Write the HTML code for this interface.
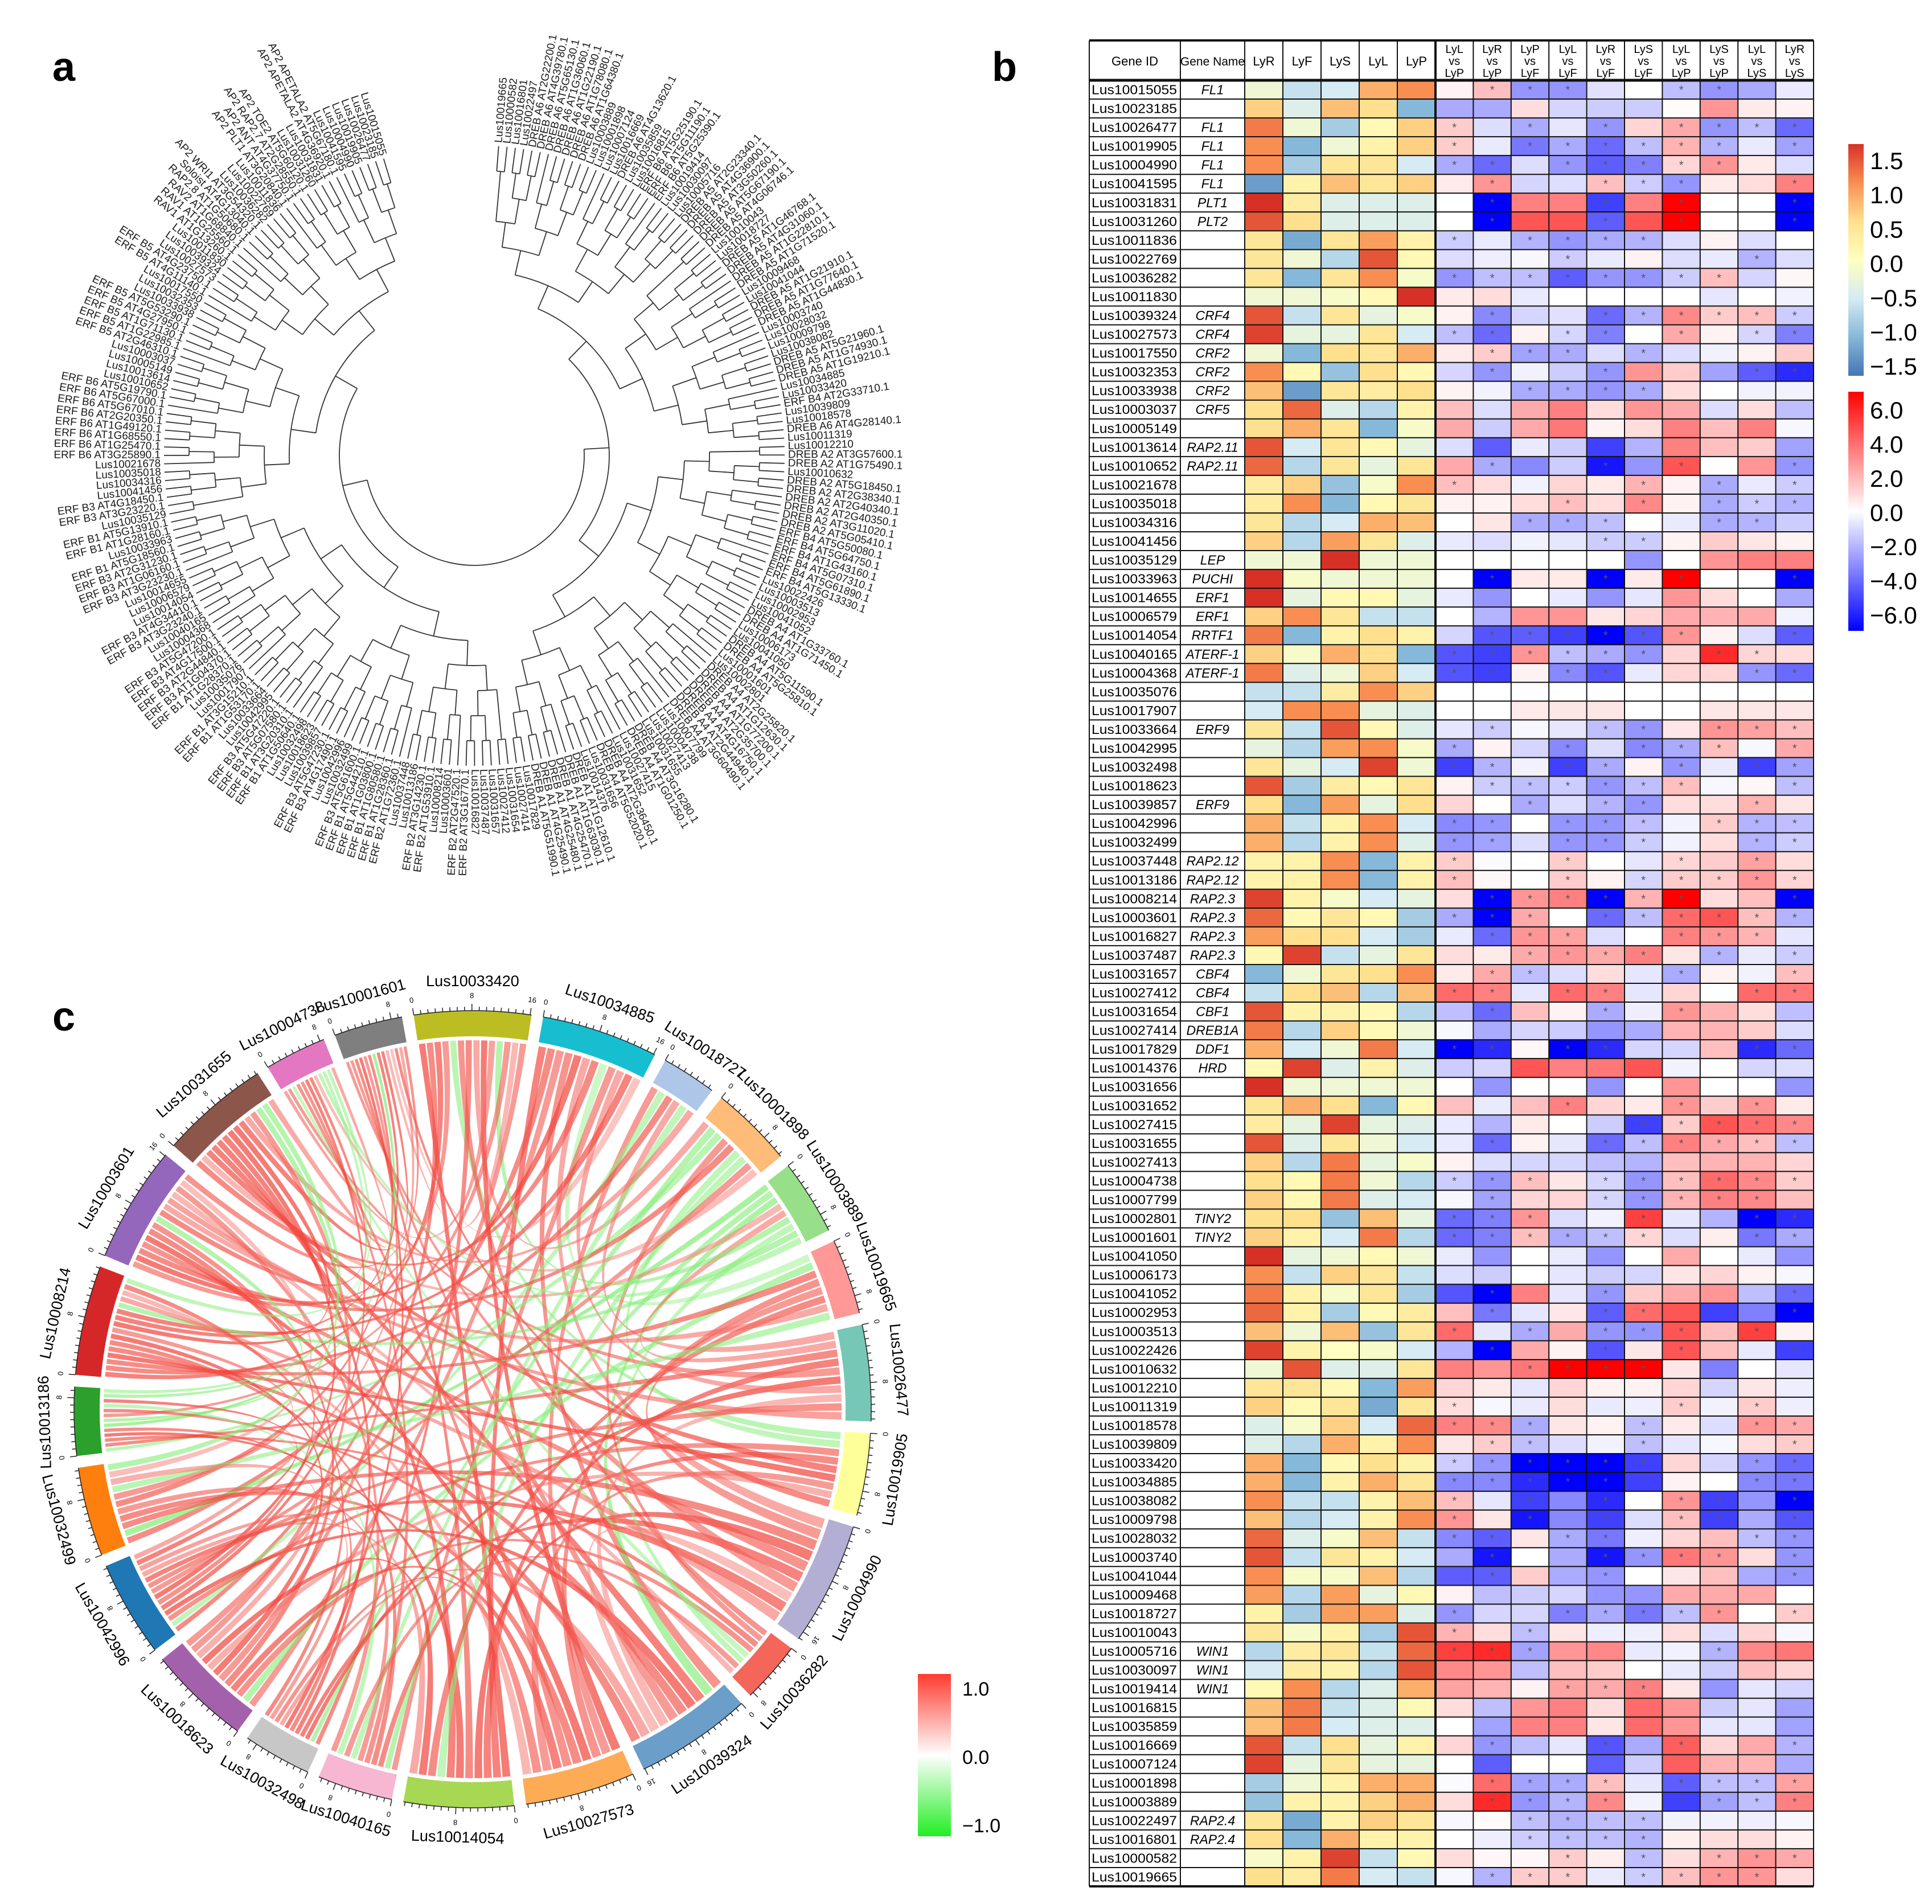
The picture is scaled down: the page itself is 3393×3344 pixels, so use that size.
<!DOCTYPE html>
<html><head><meta charset="utf-8"><title>AP2/ERF figure</title>
<style>
html,body{margin:0;padding:0;background:#fff;}
svg{display:block;font-family:"Liberation Sans",Arial,sans-serif;}
</style></head>
<body>
<svg id="fig" xmlns="http://www.w3.org/2000/svg" width="3393" height="3344" viewBox="0 0 3393 3344">
<rect x="0" y="0" width="3393" height="3344" fill="#fff"/>
<text x="92" y="142" font-size="72" font-weight="bold">a</text>
<text x="1742" y="142" font-size="72" font-weight="bold">b</text>
<text x="92" y="1810" font-size="72" font-weight="bold">c</text>
<g id="panelA"></g>
<g id="panelB"></g>
<g id="panelC"></g>
</svg>
<script>
// ================= PANEL B DATA =================
const geneIds = ["Lus10015055","Lus10023185","Lus10026477","Lus10019905","Lus10004990","Lus10041595","Lus10031831","Lus10031260","Lus10011836","Lus10022769","Lus10036282","Lus10011830","Lus10039324","Lus10027573","Lus10017550","Lus10032353","Lus10033938","Lus10003037","Lus10005149","Lus10013614","Lus10010652","Lus10021678","Lus10035018","Lus10034316","Lus10041456","Lus10035129","Lus10033963","Lus10014655","Lus10006579","Lus10014054","Lus10040165","Lus10004368","Lus10035076","Lus10017907","Lus10033664","Lus10042995","Lus10032498","Lus10018623","Lus10039857","Lus10042996","Lus10032499","Lus10037448","Lus10013186","Lus10008214","Lus10003601","Lus10016827","Lus10037487","Lus10031657","Lus10027412","Lus10031654","Lus10027414","Lus10017829","Lus10014376","Lus10031656","Lus10031652","Lus10027415","Lus10031655","Lus10027413","Lus10004738","Lus10007799","Lus10002801","Lus10001601","Lus10041050","Lus10006173","Lus10041052","Lus10002953","Lus10003513","Lus10022426","Lus10010632","Lus10012210","Lus10011319","Lus10018578","Lus10039809","Lus10033420","Lus10034885","Lus10038082","Lus10009798","Lus10028032","Lus10003740","Lus10041044","Lus10009468","Lus10018727","Lus10010043","Lus10005716","Lus10030097","Lus10019414","Lus10016815","Lus10035859","Lus10016669","Lus10007124","Lus10001898","Lus10003889","Lus10022497","Lus10016801","Lus10000582","Lus10019665"];
const geneNames = ["FL1","","FL1","FL1","FL1","FL1","PLT1","PLT2","","","","","CRF4","CRF4","CRF2","CRF2","CRF2","CRF5","","RAP2.11","RAP2.11","","","","","LEP","PUCHI","ERF1","ERF1","RRTF1","ATERF-1","ATERF-1","","","ERF9","","","","ERF9","","","RAP2.12","RAP2.12","RAP2.3","RAP2.3","RAP2.3","RAP2.3","CBF4","CBF4","CBF1","DREB1A","DDF1","HRD","","","","","","","","TINY2","TINY2","","","","","","","","","","","","","","","","","","","","","","WIN1","WIN1","WIN1","","","","","","","RAP2.4","RAP2.4","",""];
const tissueLabels = ["LyR","LyF","LyS","LyL","LyP"];
const compLabels = [["LyL","vs","LyP"],["LyR","vs","LyP"],["LyP","vs","LyF"],["LyL","vs","LyF"],["LyR","vs","LyF"],["LyS","vs","LyF"],["LyL","vs","LyP"],["LyS","vs","LyP"],["LyL","vs","LyS"],["LyR","vs","LyS"]];
const exprValues = [
[-0.2,-0.6,-0.5,0.8,1.0],[0.6,-0.4,0.7,0.5,-1.0],[1.1,-0.2,-0.8,0.1,0.6],[1.0,-1.0,-0.2,0.2,0.6],[1.0,-0.8,0.4,0.4,-0.5],[-1.2,0.2,0.7,0.4,0.6],[1.5,0.3,-0.4,-0.4,-0.4],[1.3,0.5,-0.4,-0.4,-0.4],
[0.4,-1.1,0.4,0.9,0.2],[0.4,-0.2,-0.7,1.3,0.1],[0.4,-1.0,0.4,1.0,-0.1],[-0.2,-0.2,-0.1,0.1,1.5],[1.3,-0.6,0.4,-0.3,-0.1],[1.4,-0.3,-0.3,0.4,-0.5],[-0.2,-1.0,0.5,0.4,0.8],[1.0,0.1,-0.9,0.5,0.1],
[0.7,-1.2,0.4,0.3,0.5],[0.5,1.2,-0.4,-0.7,0.2],[0.5,0.8,0.4,-1.0,-0.1],[1.3,-0.5,0.4,0.1,-0.3],[1.2,-0.7,0.4,-0.3,0.4],[0.3,0.6,-0.9,-0.1,1.0],[0.3,1.0,-1.0,0.1,0.4],[0.4,-0.7,-0.5,0.8,0.7],
[0.6,-0.7,0.9,0.4,-0.4],[-0.2,-0.2,1.5,-0.2,-0.2],[1.5,-0.1,-0.2,-0.2,-0.2],[1.5,-0.3,0.1,0.1,-0.3],[0.6,1.0,0.4,-0.6,-0.6],[1.1,-1.0,0.2,0.5,0.2],[0.6,-0.1,0.8,0.5,-1.0],[1.1,-0.4,-0.2,0.6,-0.5],
[-0.6,-0.6,0.3,1.0,0.6],[-0.5,1.0,1.0,-0.3,-0.4],[0.4,-0.6,1.3,0.1,-0.4],[-0.3,-0.7,0.9,1.0,-0.1],[0.4,-0.3,-0.5,1.4,-0.2],[1.3,-0.8,0.3,0.1,0.4],[0.5,-1.0,0.9,-0.3,0.5],[0.8,-0.6,0.2,1.0,-0.5],
[0.8,-0.7,0.2,1.0,-0.4],[0.2,0.2,1.0,-1.0,0.2],[0.2,0.2,1.0,-1.0,0.2],[1.4,0.2,-0.1,-0.5,-0.3],[1.2,0.1,0.4,0.1,-0.8],[0.9,0.5,0.5,-0.5,-0.8],[0.1,1.4,-0.6,-0.3,0.4],[-1.0,-0.2,0.4,0.5,1.0],
[-0.6,0.5,0.7,-0.7,0.7],[1.3,0.2,0.2,0.1,-0.7],[1.1,-0.7,0.6,0.1,-0.2],[0.8,-0.5,-0.2,1.1,-0.5],[0.1,1.4,-0.4,0.2,-0.4],[1.5,-0.2,-0.2,-0.2,-0.2],[0.4,0.8,0.5,-1.0,0.1],[0.3,-0.3,1.4,-0.3,-0.4],
[1.3,-0.4,0.4,-0.2,-0.5],[0.6,-0.7,1.1,-0.3,-0.1],[0.5,0.1,1.1,-0.2,-0.7],[0.6,0.1,1.1,-0.4,-0.5],[0.5,0.5,-0.9,0.7,-0.3],[0.6,0.2,-0.5,1.1,-0.7],[1.5,-0.3,-0.2,0.1,-0.2],[1.0,-0.6,0.6,0.4,-0.6],
[1.1,0.2,-0.1,0.4,-0.8],[1.2,0.2,-0.8,0.1,0.3],[0.7,-0.2,0.7,-0.9,0.4],[1.4,0.2,0.0,-0.1,-0.5],[-0.2,1.3,-0.4,-0.4,0.4],[0.4,0.4,0.1,-1.0,0.9],[0.6,0.1,0.4,-1.1,0.4],[-0.4,-0.1,0.6,-0.5,1.2],
[-0.4,-0.7,0.8,0.2,1.0],[0.8,-1.0,0.1,0.5,0.2],[0.8,-1.0,0.2,0.8,0.4],[1.0,-0.6,-0.6,0.2,0.7],[0.7,-0.7,-0.5,0.2,1.0],[1.2,-0.4,-0.1,0.7,-0.6],[1.3,-0.6,0.4,0.2,-0.5],[1.0,-0.1,-0.1,0.7,-0.7],
[0.9,-0.7,0.9,-0.3,0.1],[0.2,-0.8,0.9,0.9,-0.4],[0.4,-0.1,0.2,-0.8,1.3],[-0.7,0.3,0.4,-0.6,1.2],[-0.5,0.3,0.2,-0.7,1.3],[0.1,1.0,-0.7,-0.4,0.8],[0.7,1.1,-0.6,-0.4,0.1],[0.7,1.1,-0.5,-0.4,-0.4],
[1.3,-0.6,0.5,-0.3,0.2],[1.4,-0.3,0.4,-0.3,-0.3],[-0.8,-0.2,0.2,0.8,0.8],[-0.9,0.2,0.2,0.6,0.8],[0.4,-1.1,0.2,0.6,0.4],[0.5,-1.0,0.8,0.2,0.2],[-0.1,0.2,1.4,-0.6,0.1],[0.5,0.3,1.1,-0.5,-0.6]];
const compValues = [
[0.3,1.5,-2.5,-2.5,-0.7,0,-1.5,-2.5,-2,-0.5],[-2,-2,0.8,-1,-1.2,-1.2,0.1,2.5,0.5,0.3],[1.2,-0.8,-2,-0.6,-2.5,1,2,-2.5,-1.5,-3.5],[1.2,-0.5,-3.2,-2,-3.5,-1.5,1.8,-1.8,-0.5,-2.2],
[-2,-3.5,-0.8,-2.5,-3.8,-3,1,2.5,0.5,-0.8],[0.5,2.5,-1,-0.8,1.5,-1.2,-2.5,0.5,0.8,3],[0,-6,3,3,-4.5,3,6,0,0,-6],[0,-6,4,4,-3.8,4,6,0,0,-6],
[-1.2,-0.5,-1.8,-2.5,-2,-1.8,-0.8,0.3,-0.8,0],[-0.8,-0.4,-0.2,-1.2,-0.5,0.3,-0.8,-0.5,-1.8,-0.8],[-2.5,-1.5,-1.5,-3.8,-2.5,-2.5,-1.2,1.5,-1,0.2],[0.5,0.8,-0.5,0,0,0,0,-0.6,0,-0.3],
[0.3,-2.8,-1,-0.7,-3.5,-1.8,2.8,1.2,1.5,-1.2],[-1.5,-3.5,0.3,-1,-3,0,2,0.3,-1,-3],[0.5,1.2,-2.2,-2,-0.8,-1.8,-0.8,-0.3,0.3,1.2],[-1,-2.5,-0.3,-1.2,-2.5,2.5,1.2,-2.2,-3.8,-5],
[0.3,-0.3,-2,-2,-2.5,-2,0.8,0,-0.3,-0.3],[1.5,-0.8,2,3,0.8,2.5,2,-0.8,0.8,-1.5],[2,-1.2,2,3.2,0.3,0.8,3,1.5,3,-0.2],[-0.8,-3.8,-0.5,-1.2,-4.5,-1.8,3,1.5,1.2,-2.2],
[2,-2,-2.8,-1.2,-5.5,-2.5,4,0,2.5,-2.5],[1.5,0.8,-0.3,1,0.5,1.8,0.3,-2,-0.5,-1.2],[0.3,0.3,0.8,1.5,0.8,2.8,0.3,-2,-1.2,-1.8],[0,0.6,-2,-2,-1.5,0,-0.5,-2,-1.8,-1.2],
[-0.5,-0.8,-0.3,-0.6,-1.2,-1.2,0.3,1.2,0.6,0.3],[0,0,0,0,0,-2.5,0,2.5,3,3],[0,-6,0.5,0.5,-6,0.5,6,0,0,-6],[-0.5,-2.5,0,-0.5,-2.5,-0.6,2.5,0.8,0,-2],
[0,-1.8,2.5,2.5,0.6,1,2,1.8,2,-0.3],[-1,-4,-3.8,-4.5,-6,-4,2.5,0.3,-0.8,-3.8],[-4,-4.5,2.5,-1.5,-2,-2.5,1,5,1,0.8],[-4,-4.5,0.3,-2.8,-4,-0.5,1,1,-2.5,-3.5],
[0,0,0,0,0,0,0,0,0,0],[0,0,0.5,0.6,0.6,0,0,0.6,0.6,0.6],[-0.6,-1.2,-0.2,-0.6,-1.5,-2.5,0.6,2.5,2.2,1.5],[-2,0.3,-1,-2.8,-0.8,-2.8,-2,1.5,-0.2,2],
[-4.5,-1.8,-0.3,-4.5,-2,0.3,-2.5,-0.5,-4.5,-2.2],[0.3,-1.2,-1.5,-1.2,-2.5,-1.5,1.5,-0.2,0.2,-1.5],[1,0,-2,-0.8,-1.8,-2.5,0.8,0.8,1.8,0.6],[-2.8,-2.5,0,-2.5,-2.5,-1.5,-0.3,1.2,-1.8,-1.5],
[-2.5,-2.2,-0.8,-2.5,-2.5,-1.2,-0.3,0.8,-1.8,-1.2],[1.2,-0.1,0,1.2,0,-0.6,1,1.2,2.2,0.8],[1.5,0.2,0,1.2,0.3,-1,1.2,1.2,2.5,1],[0.8,-6,2.5,3,-6,1.8,6,0.8,1.5,-6],
[-2,-6,2,0,-3.5,-1.5,3.5,4,1.5,-1.8],[-0.5,-3.5,2.5,2.2,-0.8,0,3,2.5,1.8,-0.6],[0.8,0.5,2,2.5,2,3,0.6,-1.8,-0.5,-1.2],[0.5,2,-1.5,-0.8,0.8,-0.6,-2,0.3,-0.3,1.5],
[3.5,3,-0.6,3.5,3,-0.6,1,0,3.5,3.2],[-1.5,-3.5,1.5,0.3,-2,-0.4,2.5,1.8,0.8,-1.5],[-0.2,-2,-1,-1.2,-2.5,-2,1.8,1.8,1.2,-0.8],[-6,-5,0.2,-6,-5,-1,-1,1.5,-5,-3.5],
[-1.2,-1,4,3,3.2,4,-0.3,0,-1,-0.8],[0,-2.5,0,0,-2.5,0,2.5,0,0,-2.5],[1.5,-0.5,1.5,3,1,0.5,2.5,1.2,2.5,0.5],[-0.5,-1.8,0.5,0,-1.2,-4.5,1.2,4,3.5,2.8],
[-0.5,-3.5,0.3,-0.6,-3.5,-1.5,3,2,1.5,-1.5],[0.3,-0.8,-1,-1,-1.5,-1.8,1.5,1.8,1.8,1],[-1.2,-2.5,1.5,0.6,-1,-2.5,1.5,3.5,2.8,1.2],[-0.2,-2.2,1,1,-1,-2.5,1.8,3,2.8,1.5],
[-3.5,-3,2.5,-0.8,-0.3,4.5,-0.6,-1.8,-6,-5],[-3.5,-3,1.5,-2,-1.5,1,-0.8,0.4,-3.2,-2],[-0.5,-2.5,0,-0.5,-2.5,0,2,0,-0.5,-2.5],[-0.8,-1.2,0,-0.6,-1.2,-1,0.6,1,0.3,-0.2],
[-4,-6,3,-0.6,-2.5,1.2,2,2.5,-1.5,-3.5],[1.5,-3.2,-0.6,0.6,-3.8,3.5,4,-4.5,-3,-6],[3.5,-0.6,-2,2,-2.5,-2.5,4,1.5,4.5,0.3],[-1.8,-6,2,0.3,-4,0.6,4,1.5,-0.5,-4.5],
[3,2.5,3.2,6,6,6,0.6,-3,0,-0.6],[1,0.5,-0.6,1,0.3,0.3,1,-1,0.6,-0.4],[0.8,-0.2,-0.5,0.8,-0.5,-0.4,1.2,-0.3,1.2,-0.4],[3,2.8,-2,0.6,0.3,-1.5,0.5,-0.8,2.5,2],
[0.6,1.2,-1.5,-0.8,-0.3,-1.5,-0.6,-0.2,0.8,1.2],[-1.2,-2.5,-6,-6,-6,-4.5,1,-1,-2.5,-3.5],[-2.8,-2.8,-5,-6,-6,-4.5,0.3,0,-2.8,-3.2],[1.5,-0.6,-4.5,-2.8,-5,0,2.5,-4.5,-2.5,-6],
[2.5,0.6,-5.5,-2.8,-4.5,-0.8,1.5,-4.5,-2,-4],[-2.8,-3.8,0.6,-2,-3.2,-0.4,1,1.5,-1.5,-2.5],[-2,-5.5,0,-2,-5.5,-2.5,3.2,2.5,0.8,-2.5],[-3.8,-3.8,1.2,-2,-2.5,0,0.6,1.5,-2,-2.5],
[0.3,-1.5,-1.2,-1,-2.5,-2.5,2,2,2,0],[-2.5,-1,-1,-3,-2,-3.2,-1.5,2.5,0,1.2],[1.8,0.8,-1.5,0.6,-0.4,-0.4,0.8,-0.8,1,-0.2],[4.5,5,-2.2,2.5,2.8,-0.5,-0.3,-1.8,2.8,3.2],
[2.8,2.5,-1.5,1.5,1.2,0,-0.5,-1.2,1.5,1],[2.2,1.8,0.3,2.2,2,3,0.6,-2.5,-0.6,-1],[0.8,-1.5,2.5,3,0.8,3.5,2.5,-1.2,-0.6,-2.2],[0,-2.2,3,3,0.6,3.5,2.5,-0.6,-0.6,-2.2],
[1,-2.5,-1.5,-0.6,-4,-2,3.8,1,2,-1.8],[0,-3.8,0,0,-3.8,-1.2,3.8,1.8,1.8,-2],[-0.1,3.5,-2.2,-2,1.5,-0.6,-3.8,-1.5,-1.5,2.2],[0.8,5,-2.5,-1.8,2.8,-0.3,-4.5,-2.2,-1.5,3],
[-0.2,0.1,-1.5,-1.8,-1.5,-1.5,-0.3,-0.3,-0.4,-0.2],[0,-0.4,-1.2,-1.5,-1.5,-1.8,0.4,0.8,0.8,0.3],[0.8,0.2,0.2,1.2,0.4,-1.5,0.8,1.8,2.5,2],[-0.2,-1.8,1.2,1.2,-0.5,-1.2,1.5,2.5,2.5,0.8]];
const compStars = ["0111001100","0000000000","1010101111","1011111101","1101111100","0100111001","0100101001","0100101001","1011110000","0001000010","1111111100","0000000000","0100111111","1101101011","0111010000","0100100011","0011110000","0000000000","0000000000","0000000000","0100101001","1000010101","0001010111","0011100110",
"0000110000","0000000000","0100101001","0000000000","0000000000","0111111001","1111110110","1101100011","0000000000","0000000000","0100110111","1001011101","1101101011","0111111001","0010110010","1101110111","1101110011","1001001010","1001011111","0111111001","1110111111","0111001110","0011110101","0110001001",
"1101100011","0100101000","0000000000","1101100011","0000000000","0000000000","0001001010","0000011111","0100111111","0000000000","1110111111","0100111110","1110010011","1111110011","0000000000","0000000000","0100100001","0100110001","1010111010","0100101001","0011110000","0000000000","1000001010","1110010011",
"0110010001","1111110011","1111110011","1010101101","1010101101","1101100011","0100111101","0100100001","0000000000","1001111101","1010000000","1110000100","0000000000","0001110000","0000000000","0000000000","0100101001","0000000000","0111101111","0111101111","0011110000","0011110000","0001010111","0111011110"];
const exprTicks = ["1.5","1.0","0.5","0.0","\u22120.5","\u22121.0","\u22121.5"];
const compTicks = ["6.0","4.0","2.0","0.0","\u22122.0","\u22124.0","\u22126.0"];

// ================= PANEL C DATA =================
const sectorNames = ["Lus10033420","Lus10034885","Lus10018727","Lus10001898","Lus10003889","Lus10019665","Lus10026477","Lus10019905","Lus10004990","Lus10036282","Lus10039324","Lus10027573","Lus10014054","Lus10040165","Lus10032498","Lus10018623","Lus10042996","Lus10032499","Lus10013186","Lus10008214","Lus10003601","Lus10031655","Lus10004738","Lus10001601"];
const sectorSizes = [17,17,8,12,11,11,14,12,18,9,17,16,16,11,10,15,14,13,10,16,17,16,9,10];
const linkSource = [0,0,0,0,0,0,0,0,0,0, 1,1,1,1,1,1,1,1,1, 2,2,2,2, 3,3,3,3,3, 4,4,4,4,4, 5,5,5,5, 6,6,6,6, 7,7,7,7, 8,8,8,8,8, 9,9,9, 10,10,10,10, 11,11,11,11, 12,12,12, 13,13,13, 14,14,14, 15,15,15, 16,16,16, 17,17, 18,18, 19,19, 20, 21,
 0,0,0, 1,1,1, 2,2, 3,3,3, 4,4,4, 5,5,5, 6,6,6, 7,7,7, 8,8,8, 9,9, 10,10, 11,11, 12,12, 13,13, 14,14, 15,15, 16,16, 17,17, 18,18, 19, 20, 21, 0];
const linkTarget = [12,16,19,20,7,9,14,3,11,22, 12,17,15,10,20,8,21,5,13, 11,16,19,6, 14,18,9,20,7, 17,13,10,21,6, 15,19,11,8, 18,12,22,14, 16,13,21,19, 17,12,20,14,23, 18,15,22, 21,16,19,23, 20,17,22,15, 23,18,21, 19,22,17, 21,18,23, 20,23,19, 22,20,21, 23,19, 23,20, 21,23, 22, 23,
 4,18,23, 6,19,23, 13,21, 12,16,22, 9,19,22, 12,20,17, 10,16,20, 11,15,23, 10,16,19, 13,20, 14,18, 14,19, 15,16, 18,20, 16,19, 17,21, 18,23, 20,21, 21,22, 22, 23, 22, 15];
const linkCorr = [0.9,0.8,0.85,0.7,-0.55,0.75,0.8,0.6,0.9,0.65, 0.85,0.8,0.7,0.75,0.9,0.6,0.8,-0.4,0.7, 0.7,-0.5,0.8,0.6, -0.6,-0.55,0.7,0.8,-0.5, -0.7,-0.6,-0.65,0.5,0.6, -0.6,0.8,0.75,0.7, 0.8,0.85,0.7,0.9, 0.75,0.8,0.85,0.9, 0.8,0.9,0.75,0.85,0.7, 0.8,0.75,-0.45, 0.85,0.9,0.8,0.7, 0.9,0.8,0.75,0.85, 0.8,0.9,0.85, 0.8,0.75,0.7, 0.85,0.8,0.9, 0.8,0.7,0.9, 0.85,0.75,0.9, 0.8,0.7, -0.7,-0.6, 0.9,0.85, 0.8, 0.85,
 -0.6,0.7,0.5, 0.6,0.85,0.4, -0.5,0.6, -0.5,0.7,0.45, -0.5,-0.6,-0.5, 0.8,0.6,-0.55, 0.5,0.75,0.65, 0.7,0.55,0.8, 0.45,0.85,0.6, 0.7,0.5, 0.6,0.8, 0.75,0.5, 0.9,0.6, -0.5,0.7, 0.65,0.8, 0.55,0.7, 0.85,0.6, 0.45,-0.6, -0.6,-0.5, -0.5, 0.75, 0.6, 0.7];
const chordTicks = ["1.0","0.0","\u22121.0"];

// ================= PANEL A DATA =================
const treeLabels = ["Lus10019665","Lus10000582","Lus10016801","Lus10022497","DREB A6 AT2G22200.1","DREB A6 AT4G39780.1","DREB A6 AT5G65130.1","DREB A6 AT1G36060.1","DREB A6 AT1G22190.1","DREB A6 AT1G78080.1","DREB A6 AT1G64380.1","Lus10003889","Lus10001898","Lus10007124","Lus10016669","DREB A6 AT4G13620.1","Lus10035859","Lus10016815","ERF B6 AT5G25190.1","ERF B6 AT5G11190.1","ERF B6 AT5G25390.1","Lus10019414","Lus10030097","Lus10005716","DREB A5 AT2G23340.1","DREB A5 AT4G36900.1","DREB A5 AT3G50260.1","DREB A5 AT5G67190.1","DREB A5 AT4G06746.1","Lus10010043","Lus10018727","DREB A5 AT1G46768.1","DREB A5 AT4G31060.1","DREB A5 AT1G22810.1","DREB A5 AT1G71520.1","Lus10009468","Lus10041044","DREB A5 AT1G21910.1","DREB A5 AT1G77640.1","DREB A5 AT1G44830.1","Lus10003740","Lus10028032","Lus10009798","Lus10038082","DREB A5 AT5G21960.1","DREB A5 AT1G74930.1","DREB A5 AT1G19210.1","Lus10034885","Lus10033420","ERF B4 AT2G33710.1","Lus10039809","Lus10018578","DREB A6 AT4G28140.1","Lus10011319","Lus10012210","DREB A2 AT3G57600.1","DREB A2 AT1G75490.1","Lus10010632","DREB A2 AT5G18450.1","DREB A2 AT2G38340.1","DREB A2 AT2G40340.1","DREB A2 AT2G40350.1","DREB A2 AT3G11020.1","DREB A2 AT5G05410.1","ERF B4 AT5G50080.1","ERF B4 AT5G64750.1","ERF B4 AT1G43160.1","ERF B4 AT5G07310.1","ERF B4 AT5G61890.1","ERF B4 AT5G13330.1","Lus10022426","Lus10003513","Lus10002953","Lus10041052","DREB A4 AT1G33760.1","DREB A4 AT1G71450.1","Lus10006173","Lus10041050","DREB A4 AT5G11590.1","DREB A4 AT5G25810.1","Lus10001601","Lus10002801","DREB A4 AT2G25820.1","DREB A4 AT1G12630.1","DREB A4 AT1G77200.1","DREB A4 AT2G35700.1","DREB A4 AT4G16750.1","DREB A4 AT2G44940.1","DREB A4 AT3G60490.1","Lus10007799","Lus10004738","Lus10027413","Lus10031655","DREB A4 AT3G16280.1","DREB A4 AT1G01250.1","Lus10027415","Lus10031652","DREB A4 AT2G36450.1","DREB A4 AT5G52020.1","Lus10031656","Lus10014376","DREB A1 AT1G12610.1","DREB A1 AT1G63030.1","DREB A1 AT4G25470.1","DREB A1 AT4G25480.1","DREB A1 AT4G25490.1","DREB A1 AT5G51990.1","Lus10017829","Lus10027414","Lus10031654","Lus10027412","Lus10031657","Lus10037487","Lus10016827","ERF B2 AT3G16770.1","ERF B2 AT2G47520.1","Lus10003601","Lus10008214","ERF B2 AT1G53910.1","ERF B2 AT3G14230.1","Lus10013186","Lus10037448","ERF B2 AT1G72360.1","ERF B1 AT1G28360.1","ERF B1 AT1G80580.1","ERF B1 AT1G03800.1","ERF B1 AT5G44210.1","ERF B3 AT5G61600.1","Lus10032499","Lus10042996","ERF B3 AT4G17490.1","ERF B3 AT5G47230.1","Lus10039857","Lus10018623","Lus10032498","ERF B1 AT1G50640.1","ERF B1 AT3G20310.1","ERF B3 AT5G07580.1","ERF B3 AT5G47220.1","Lus10042995","Lus10033664","ERF B1 AT1G53170.1","ERF B1 AT3G15210.1","Lus10017907","Lus10035076","ERF B1 AT1G28370.1","ERF B3 AT1G04370.1","ERF B3 AT2G44840.1","ERF B3 AT4G17500.1","ERF B3 AT5G47200.1","Lus10004368","Lus10040165","ERF B3 AT3G23240.1","ERF B3 AT4G34410.1","Lus10014054","Lus10006579","Lus10014655","ERF B3 AT3G23230.1","ERF B3 AT1G06160.1","ERF B3 AT2G31230.1","ERF B1 AT5G18560.1","Lus10033963","ERF B1 AT1G28160.1","ERF B1 AT5G13910.1","Lus10035129","ERF B3 AT3G23220.1","ERF B3 AT4G18450.1","Lus10041456","Lus10034316","Lus10035018","Lus10021678","ERF B6 AT3G25890.1","ERF B6 AT1G25470.1","ERF B6 AT1G68550.1","ERF B6 AT1G49120.1","ERF B6 AT2G20350.1","ERF B6 AT5G67010.1","ERF B6 AT5G67000.1","ERF B6 AT5G19790.1","Lus10010652","Lus10013614","Lus10005149","Lus10003037","ERF B5 AT2G46310.1","ERF B5 AT1G22985.1","ERF B5 AT1G71130.1","ERF B5 AT4G27950.1","ERF B5 AT5G53290.1","Lus10033938","Lus10032353","Lus10017550","ERF B5 AT4G11140.1","ERF B5 AT4G23750.1","Lus10027573","Lus10039324","Lus10011830","RAV1 AT1G13260.1","RAV1 AT1G25560.1","RAV2 AT1G68840.1","RAP2.8 AT1G50680.1","Soloist AT4G13040.1","AP2 WRI1 AT3G54320.1","Lus10036282","Lus10022769","Lus10011836","AP2 PLT1 AT3G20840.1","AP2 ANT AT4G37750.1","AP2 RAP2.7 AT2G28550.1","AP2 TOE2 AT5G60120.1","Lus10031260","Lus10031831","AP2 APETALA2 AT4G36920.1","AP2 APETALA2 AT5G67180.1","Lus10041595","Lus10004990","Lus10019905","Lus10026477","Lus10023185","Lus10015055"];

const NS = "http://www.w3.org/2000/svg";
function mk(tag, attrs, parent) {
  const e = document.createElementNS(NS, tag);
  for (const k in attrs) e.setAttribute(k, attrs[k]);
  parent.appendChild(e);
  return e;
}
function hex(c){return [parseInt(c.slice(1,3),16),parseInt(c.slice(3,5),16),parseInt(c.slice(5,7),16)];}
function rgb(a){return "rgb("+a.map(v=>Math.round(v)).join(",")+")";}
function lerp(a,b,t){return a.map((v,i)=>v+(b[i]-v)*t);}

const exprStops = [[-1.5,"#4575b4"],[-1.0,"#86b8d9"],[-0.5,"#d6ebf3"],[0,"#ffffbf"],[0.5,"#fee08f"],[1.0,"#f98e52"],[1.5,"#d73027"]];
function exprColor(v){
  v=Math.max(-1.5,Math.min(1.5,v));
  for(let i=0;i<exprStops.length-1;i++){
    const [a,ca]=exprStops[i],[b,cb]=exprStops[i+1];
    if(v<=b){return rgb(lerp(hex(ca),hex(cb),(v-a)/(b-a)));}
  }
  return exprStops[exprStops.length-1][1];
}
function compColor(v){
  const t=Math.min(1,Math.abs(v)/6);
  return rgb(lerp([255,255,255], v>=0?[255,0,0]:[0,0,255], t));
}

// ================= PANEL B =================
(function(){
  const g=document.getElementById("panelB");
  const x0=1913, xName=2073, xExpr=2186, exprW=67, xComp=2521, compW=66.4, xEnd=3185;
  const yTop=71, yHead=141, rowH=(3313-141)/96;
  const xScale=i=>xExpr+i*exprW;
  const cScale=j=>xComp+j*compW;
  const yScale=r=>yHead+r*rowH;

  const hd=mk("text",{x:(x0+xName)/2,y:115,"font-size":22,"text-anchor":"middle"},g);
  hd.textContent="Gene ID";
  
  
  const hn=mk("text",{x:(xName+xExpr)/2,y:115,"font-size":21,"text-anchor":"middle"},g);
  hn.textContent="Gene Name";
  
  
  tissueLabels.forEach((t,i)=>{
    const e=mk("text",{x:xScale(i)+exprW/2,y:115,"font-size":22,"text-anchor":"middle"},g);
    e.textContent=t;
    
    
  });
  compLabels.forEach((t,j)=>{
    t.forEach((s,k)=>{
      const e=mk("text",{x:cScale(j)+compW/2,y:93+k*21,"font-size":20,"text-anchor":"middle"},g);
      e.textContent=s;
      
      
    });
  });

  geneIds.forEach((id,r)=>{
    const y=yScale(r);
    const t=mk("text",{x:x0+4,y:y+rowH/2+8,"font-size":23,textLength:150,lengthAdjust:"spacingAndGlyphs"},g);
    t.textContent=id;
    
    
    if(geneNames[r]){
      const n=mk("text",{x:(xName+xExpr)/2,y:y+rowH/2+8,"font-size":23,"font-style":"italic","text-anchor":"middle"},g);
      n.textContent=geneNames[r];
      
      
    }
    exprValues[r].forEach((v,i)=>{
      const c=mk("rect",{x:xScale(i),y:y,width:exprW,height:rowH,fill:exprColor(v)},g);
      
      
    });
    compValues[r].forEach((v,j)=>{
      const c=mk("rect",{x:cScale(j),y:y,width:compW,height:rowH,fill:compColor(v)},g);
      
      
      if(compStars[r][j]==="1"){
        const s=mk("text",{x:cScale(j)+compW/2,y:y+rowH/2+7,"font-size":20,"text-anchor":"middle",fill:"#555"},g);
        s.textContent="*";
        
        
      }
    });
  });

  const grid=mk("g",{stroke:"#111","stroke-width":2},g);
  
  
  for(let r=0;r<=96;r++){
    mk("line",{x1:x0,x2:xEnd,y1:yScale(r),y2:yScale(r)},grid);
  }
  const vx=[x0,xName,xExpr];
  for(let i=1;i<=5;i++) vx.push(xScale(i));
  for(let j=1;j<=10;j++) vx.push(cScale(j));
  vx.forEach(x=>mk("line",{x1:x,x2:x,y1:yTop,y2:3313},grid));
  mk("line",{x1:x0,x2:xEnd,y1:yTop,y2:yTop,"stroke-width":4},grid);
  mk("line",{x1:x0,x2:xEnd,y1:yHead,y2:yHead,"stroke-width":5},grid);
  mk("line",{x1:x0,x2:xEnd,y1:3313,y2:3313,"stroke-width":4},grid);
  mk("line",{x1:xComp,x2:xComp,y1:yTop,y2:3313,"stroke-width":4},grid);

  const defs=mk("defs",{},document.getElementById("fig"));
  const lg1=mk("linearGradient",{id:"gExpr",x1:0,y1:0,x2:0,y2:1},defs);
  exprStops.slice().reverse().forEach((s,i)=>mk("stop",{offset:(i/6),"stop-color":s[1]},lg1));
  const lg2=mk("linearGradient",{id:"gComp",x1:0,y1:0,x2:0,y2:1},defs);
  mk("stop",{offset:0,"stop-color":"#ff0000"},lg2);
  mk("stop",{offset:0.5,"stop-color":"#ffffff"},lg2);
  mk("stop",{offset:1,"stop-color":"#0000ff"},lg2);
  const b1=mk("rect",{x:3246,y:253,width:27,height:407,fill:"url(#gExpr)"},g);
  
  
  const b2=mk("rect",{x:3246,y:688,width:27,height:420,fill:"url(#gComp)"},g);
  
  
  exprTicks.forEach((t,i)=>{
    const e=mk("text",{x:3284,y:297+i*60.2,"font-size":42},g);
    e.textContent=t;
    
    
  });
  compTicks.forEach((t,i)=>{
    const e=mk("text",{x:3284,y:735+i*60,"font-size":42},g);
    e.textContent=t;
    
    
  });
})();

// ================= PANEL C =================
(function(){
  const g=document.getElementById("panelC");
  const cx=830, cy=2475, rIn=655, rOut=700, rChord=648;
  const sectorColors=["#bcbd22","#17becf","#aec7e8","#ffbb78","#98df8a","#ff9896","#76c7b5","#ffff99","#b3aed3","#f4665a","#6b9ec9","#fdac55","#a6d854","#f7b6d2","#c7c7c7","#a461ab","#1f77b4","#ff7f0e","#2ca02c","#d62728","#9467bd","#8c564b","#e377c2","#7f7f7f"];
  const total=sectorSizes.reduce((a,b)=>a+b,0);
  const gap=(360-total)/sectorSizes.length;
  const starts=[]; let a=-8.5;
  sectorSizes.forEach(s=>{starts.push(a); a+=s+gap;});
  const rad=d=>d*Math.PI/180;
  const P=(ang,r)=>[cx+r*Math.sin(rad(ang)), cy-r*Math.cos(rad(ang))];
  const f=p=>p[0].toFixed(1)+","+p[1].toFixed(1);

  const counts=sectorNames.map(()=>0);
  linkSource.forEach((s,i)=>{counts[s]++;counts[linkTarget[i]]++;});
  const used=sectorNames.map(()=>0);
  function slot(s){
    const w=sectorSizes[s]/counts[s];
    const a1=starts[s]+used[s]*w; used[s]++;
    return [a1+0.12,a1+w-0.12];
  }
  const cg=mk("g",{},g);
  
  
  linkSource.forEach((s,i)=>{
    const t=linkTarget[i];
    const v=(linkCorr[i]===undefined)?0.6:linkCorr[i];
    const [a1,a2]=slot(s), [b1,b2]=slot(t);
    const d="M"+f(P(a1,rChord))+" A"+rChord+","+rChord+" 0 0 1 "+f(P(a2,rChord))+
      " Q"+cx+","+cy+" "+f(P(b1,rChord))+" A"+rChord+","+rChord+" 0 0 1 "+f(P(b2,rChord))+
      " Q"+cx+","+cy+" "+f(P(a1,rChord))+" Z";
    const m=Math.abs(v);
    const col = v>=0 ? rgb(lerp([255,255,255],[240,55,45],0.3+0.7*m)) : rgb(lerp([255,255,255],[80,230,60],0.3+0.7*m));
    const p=mk("path",{d:d,fill:col,"fill-opacity":(0.35+0.4*m).toFixed(2),stroke:"none"},cg);
    
    
  });

  sectorNames.forEach((nm,i)=>{
    const s=starts[i], e=s+sectorSizes[i];
    const d="M"+f(P(s,rOut))+" A"+rOut+","+rOut+" 0 0 1 "+f(P(e,rOut))+" L"+f(P(e,rIn))+" A"+rIn+","+rIn+" 0 0 0 "+f(P(s,rIn))+" Z";
    const p=mk("path",{d:d,fill:sectorColors[i]},g);
    
    
    for(let k=0;k<=sectorSizes[i]/1.05;k++){
      const aa=s+k*1.05;
      const big=(k%8===0);
      mk("line",{x1:P(aa,rOut)[0],y1:P(aa,rOut)[1],x2:P(aa,rOut+(big?12:7))[0],y2:P(aa,rOut+(big?12:7))[1],stroke:"#222","stroke-width":1.5},g);
      if(big){
        const tp=P(aa,rOut+22);
        const tl=mk("text",{x:tp[0],y:tp[1],"font-size":13,"text-anchor":"middle",transform:"rotate("+aa+" "+tp[0]+" "+tp[1]+")"},g);
        tl.textContent=String(k);
        
        
      }
    }
    mk("path",{d:"M"+f(P(s,rOut))+" A"+rOut+","+rOut+" 0 0 1 "+f(P(e,rOut)),fill:"none",stroke:"#222","stroke-width":1.5},g);
    const mid=(s+e)/2, norm=((mid%360)+360)%360;
    const lp=P(mid,rOut+52);
    const rot=(norm>95&&norm<265)?mid-180:mid;
    const tx=mk("text",{x:lp[0],y:lp[1]+9,"font-size":27,"text-anchor":"middle",transform:"rotate("+rot+" "+lp[0]+" "+lp[1]+")"},g);
    tx.textContent=nm;
    
    
  });

  const defs=document.querySelector("defs");
  const lg=mk("linearGradient",{id:"gCorr",x1:0,y1:0,x2:0,y2:1},defs);
  mk("stop",{offset:0,"stop-color":"#ff3b2f"},lg);
  mk("stop",{offset:0.5,"stop-color":"#ffffff"},lg);
  mk("stop",{offset:1,"stop-color":"#22ee22"},lg);
  const bar=mk("rect",{x:1612,y:2940,width:58,height:285,fill:"url(#gCorr)"},g);
  
  
  chordTicks.forEach((t,i)=>{
    const e=mk("text",{x:1690,y:2978+i*120,"font-size":34},g);
    e.textContent=t;
    
    
  });
})();

// ================= PANEL A =================
(function(){
  const g=document.getElementById("panelA");
  const cx=833, cy=800, rLeaf=545, aStart=4.5, aEnd=343;
  const n=treeLabels.length;
  const step=(aEnd-aStart)/(n-1);
  const rad=d=>d*Math.PI/180;
  const P=(ang,r)=>[cx+r*Math.sin(rad(ang)), cy-r*Math.cos(rad(ang))];
  const lines=mk("g",{stroke:"#333","stroke-width":1.8,fill:"none"},g);
  
  
  function build(lo,hi){
    if(lo===hi) return {ang:aStart+lo*step,h:0,r:rLeaf};
    const size=hi-lo+1;
    let mid=lo+Math.floor(size*((lo*7+hi*3)%5===0?0.4:0.5))-1;
    if(mid<lo) mid=lo; if(mid>=hi) mid=hi-1;
    const A=build(lo,mid), B=build(mid+1,hi);
    const h=Math.max(A.h,B.h)+1;
    const r=Math.max(180, rLeaf-h*44);
    [A,B].forEach(c=>{
      const p1=P(c.ang,c.r), p2=P(c.ang,r);
      mk("line",{x1:p1[0].toFixed(1),y1:p1[1].toFixed(1),x2:p2[0].toFixed(1),y2:p2[1].toFixed(1)},lines);
    });
    const q1=P(A.ang,r), q2=P(B.ang,r);
    const large=(B.ang-A.ang)>180?1:0;
    mk("path",{d:"M"+q1[0].toFixed(1)+","+q1[1].toFixed(1)+" A"+r+","+r+" 0 "+large+" 1 "+q2[0].toFixed(1)+","+q2[1].toFixed(1)},lines);
    return {ang:(A.ang+B.ang)/2,h:h,r:r};
  }
  build(0,n-1);
  treeLabels.forEach((lab,i)=>{
    const ang=aStart+i*step;
    const p=P(ang,rLeaf+6);
    let t;
    if(ang<180){
      t=mk("text",{x:p[0],y:p[1],"font-size":19,"dominant-baseline":"middle",transform:"rotate("+(ang-90)+" "+p[0]+" "+p[1]+")",fill:"#1a1a1a"},g);
    } else {
      t=mk("text",{x:p[0],y:p[1],"font-size":19,"text-anchor":"end","dominant-baseline":"middle",transform:"rotate("+(ang+90)+" "+p[0]+" "+p[1]+")",fill:"#1a1a1a"},g);
    }
    t.textContent=lab;
    
    
  });
})();
</script>
</body></html>
